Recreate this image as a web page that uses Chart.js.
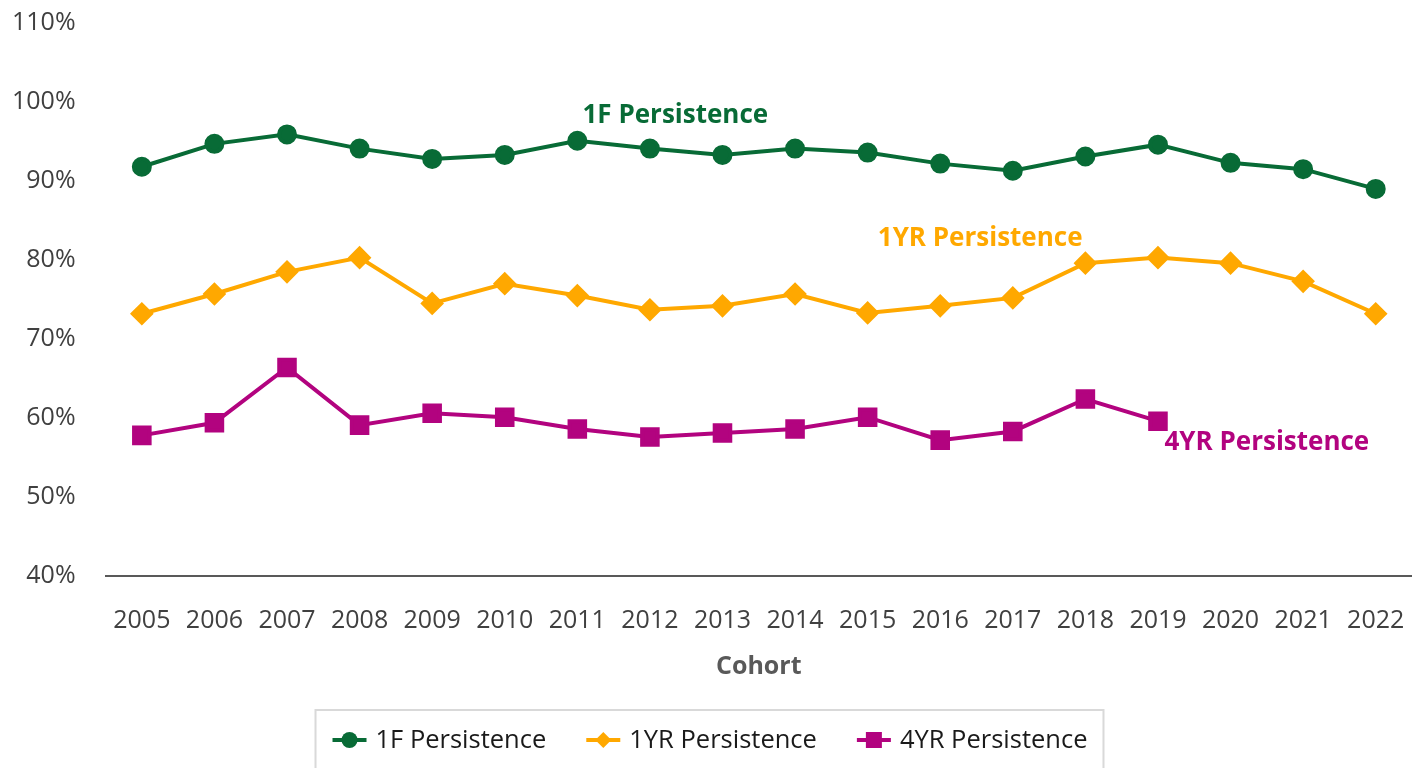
<!DOCTYPE html>
<html>
<head>
<meta charset="utf-8">
<script src="https://cdn.jsdelivr.net/npm/chart.js@4"></script>
<style>
  html, body { margin: 0; padding: 0; background: #fff; }
  #wrap { width: 1412px; height: 768px; }
</style>
</head>
<body>
<div id="wrap"><canvas id="persistChart" width="1412" height="768"></canvas></div>
<script>
const cohorts = ['2005','2006','2007','2008','2009','2010','2011','2012','2013','2014','2015','2016','2017','2018','2019','2020','2021','2022'];
const firstFall = [91.8, 94.7, 95.9, 94.1, 92.8, 93.3, 95.1, 94.1, 93.3, 94.1, 93.6, 92.2, 91.3, 93.1, 94.6, 92.3, 91.5, 89.0];
const oneYear = [73.2, 75.7, 78.5, 80.3, 74.5, 77.0, 75.5, 73.7, 74.2, 75.7, 73.3, 74.2, 75.2, 79.6, 80.3, 79.6, 77.3, 73.2];
const fourYear = [57.8, 59.4, 66.4, 59.1, 60.6, 60.1, 58.6, 57.6, 58.1, 58.6, 60.1, 57.2, 58.3, 62.4, 59.6, null, null, null];
const seriesNames = ['1F Persistence', '1YR Persistence', '4YR Persistence'];

const green = '#086b36';
const orange = '#ffa800';
const magenta = '#b2037f';
const shapes = ['circle', 'diamond', 'rect'];

// small line + marker drawn in the legend
function drawIcon(ctx, cx, cy, color, shape) {
    ctx.strokeStyle = color; ctx.fillStyle = color; ctx.lineWidth = 4;
    ctx.beginPath(); ctx.moveTo(cx - 17, cy); ctx.lineTo(cx + 17, cy); ctx.stroke();
    ctx.beginPath();
    if (shape === 'circle') { ctx.arc(cx, cy, 8, 0, Math.PI * 2); }
    else if (shape === 'diamond') { ctx.moveTo(cx, cy - 8); ctx.lineTo(cx + 8, cy); ctx.lineTo(cx, cy + 8); ctx.lineTo(cx - 8, cy); ctx.closePath(); }
    else { ctx.rect(cx - 8, cy - 8, 16, 16); }
    ctx.fill();
}

const labelPlugin = {
    id: 'seriesLabels',
    afterDatasetsDraw(chart) {
        const ctx = chart.ctx, x = chart.scales.x, y = chart.scales.y;
        const notes = [
            { text: seriesNames[0], xi: 7.35, yv: 98.3, color: green },
            { text: seriesNames[1], xi: 11.55, yv: 82.7, color: orange },
            { text: seriesNames[2], xi: 15.5, yv: 56.9, color: magenta }
        ];
        ctx.save();
        ctx.font = 'bold 26px "Open Sans"';
        ctx.textAlign = 'center';
        ctx.textBaseline = 'middle';
        notes.forEach(n => {
            ctx.fillStyle = n.color;
            ctx.fillText(n.text, x.getPixelForValue(n.xi), y.getPixelForValue(n.yv));
        });
        ctx.restore();
    },
    afterDraw(chart) {
        const ctx = chart.ctx;
        const colors = [green, orange, magenta];
        ctx.save();
        ctx.font = '25.5px "Open Sans"';
        const widths = seriesNames.map(s => ctx.measureText(s).width);
        const iconW = 34, gapIcon = 9, gapItem = 40;
        let total = 0;
        widths.forEach((w, i) => { total += iconW + gapIcon + w + (i < widths.length - 1 ? gapItem : 0); });
        let x = chart.width / 2 + 4 - total / 2;
        const cy = chart.height - 28;
        ctx.strokeStyle = '#d9d9d9';
        ctx.lineWidth = 2;
        ctx.strokeRect(x - 17, chart.height - 58, total + 33, 70);
        ctx.textBaseline = 'middle';
        ctx.textAlign = 'left';
        seriesNames.forEach((s, i) => {
            drawIcon(ctx, x + iconW / 2, cy, colors[i], shapes[i]);
            ctx.fillStyle = '#1a1a1a';
            ctx.fillText(s, x + iconW + gapIcon, cy + 1);
            x += iconW + gapIcon + widths[i] + gapItem;
        });
        ctx.restore();
    }
};

new Chart(document.getElementById('persistChart'), {
    type: 'line',
    data: {
        labels: cohorts,
        datasets: [{
            label: seriesNames[0],
            data: firstFall,
            borderColor: green,
            backgroundColor: green,
            borderWidth: 4,
            pointStyle: 'circle',
            pointRadius: 8,
            pointHoverRadius: 8
        }, {
            label: seriesNames[1],
            data: oneYear,
            borderColor: orange,
            backgroundColor: orange,
            borderWidth: 4,
            pointStyle: 'rectRot',
            pointRadius: 9,
            pointHoverRadius: 9
        }, {
            label: seriesNames[2],
            data: fourYear,
            borderColor: magenta,
            backgroundColor: magenta,
            borderWidth: 4,
            pointStyle: 'rect',
            pointRadius: 11,
            pointHoverRadius: 11
        }]
    },
    options: {
        responsive: false,
        animation: false,
        layout: { autoPadding: false, padding: { top: 23, right: 0, left: 8, bottom: 86 } },
        plugins: {
            legend: { display: false },
            tooltip: { enabled: false }
        },
        scales: {
            x: {
                offset: true,
                afterFit: s => { s.paddingRight = 0; },
                grid: { display: true, drawOnChartArea: false, drawTicks: true, tickLength: 28, color: 'rgba(0,0,0,0)' },
                border: { color: '#595959', width: 2 },
                ticks: { font: { family: 'Open Sans', size: 25 }, color: '#404040', padding: 2, maxRotation: 0, autoSkip: false },
                title: {
                    display: true,
                    text: 'Cohort',
                    font: { family: 'Open Sans', size: 25, weight: 'bold' },
                    color: '#595959',
                    padding: { top: 14, bottom: 0 }
                }
            },
            y: {
                min: 40,
                max: 110,
                afterFit: s => { s.paddingTop = 0; },
                grid: { display: true, drawOnChartArea: false, drawTicks: true, tickLength: 26, color: 'rgba(0,0,0,0)' },
                border: { display: false },
                ticks: {
                    stepSize: 10,
                    font: { family: 'Open Sans', size: 25 },
                    color: '#404040',
                    padding: 4,
                    callback: v => v + '%'
                }
            }
        }
    },
    plugins: [labelPlugin]
});
</script>
</body>
</html>
